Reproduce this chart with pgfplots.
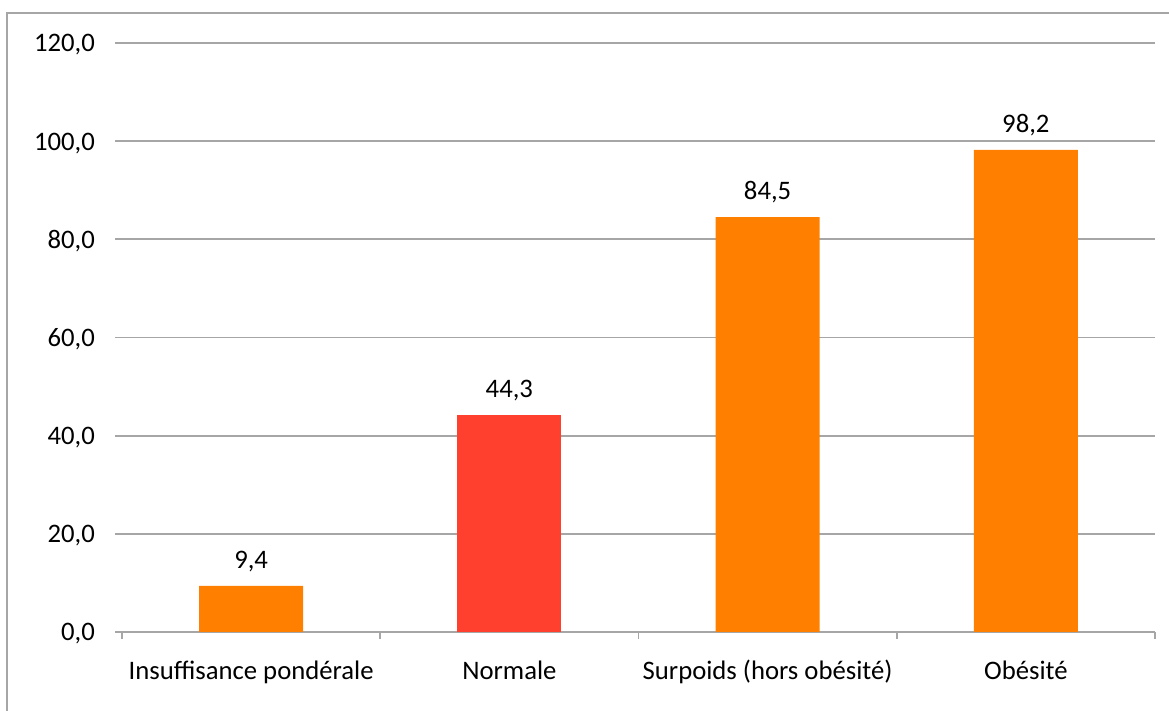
\documentclass[border=0pt]{standalone}
\usepackage{fontspec}
\setmainfont{Carlito}
\usepackage{pgfplots}
\pgfplotsset{compat=1.18}
\definecolor{barorange}{HTML}{FF7F00}
\definecolor{barred}{HTML}{FF402F}
\definecolor{gridgray}{HTML}{A6A6A6}
\newcommand{\lb}[1]{\rule{0pt}{38pt}#1}
\begin{document}
\fontsize{26.7}{32}\selectfont
\begin{tikzpicture}
\useasboundingbox (0,0) rectangle (1169pt,711pt);
\draw[gridgray, line width=2pt] (7pt,0) -- (7pt,698pt) -- (1169pt,698pt);
\begin{axis}[
  at={(122pt,79pt)}, anchor=south west,
  scale only axis, width=1033pt, height=589pt,
  xmin=-0.5, xmax=3.5, ymin=0, ymax=120,
  ytick={0,20,...,120},
  xtick={-0.5,0.5,1.5,2.5,3.5},
  xticklabels={},
  extra x ticks={0,1,2,3},
  extra x tick labels={\lb{Insuffisance pondérale}, \lb{Normale}, \lb{Surpoids (hors obésité)}, \lb{Obésité}},
  extra x tick style={grid=none, major tick length=0pt},
  xtick pos=left, ytick pos=left,
  major tick length=7pt,
  tick align=outside,
  tick style={gridgray, line width=1.8pt},
  ymajorgrids,
  major grid style={gridgray, line width=1.8pt},
  axis line style={draw=none},
  /pgf/number format/.cd, fixed, fixed zerofill, precision=1, use comma, assume math mode=true,
  /pgfplots/.cd,
  ybar, bar shift=0pt, bar width=104pt,
  nodes near coords,
  nodes near coords style={font=\fontsize{26.7}{32}\selectfont, text=black, yshift=5pt},
  every axis plot/.append style={draw=none},
  yticklabel style={xshift=-11pt, yshift=-2pt},
]
\addplot[fill=barorange] coordinates {(0,9.4) (2,84.5) (3,98.2)};
\addplot[fill=barred] coordinates {(1,44.3)};
\end{axis}
\end{tikzpicture}
\end{document}
